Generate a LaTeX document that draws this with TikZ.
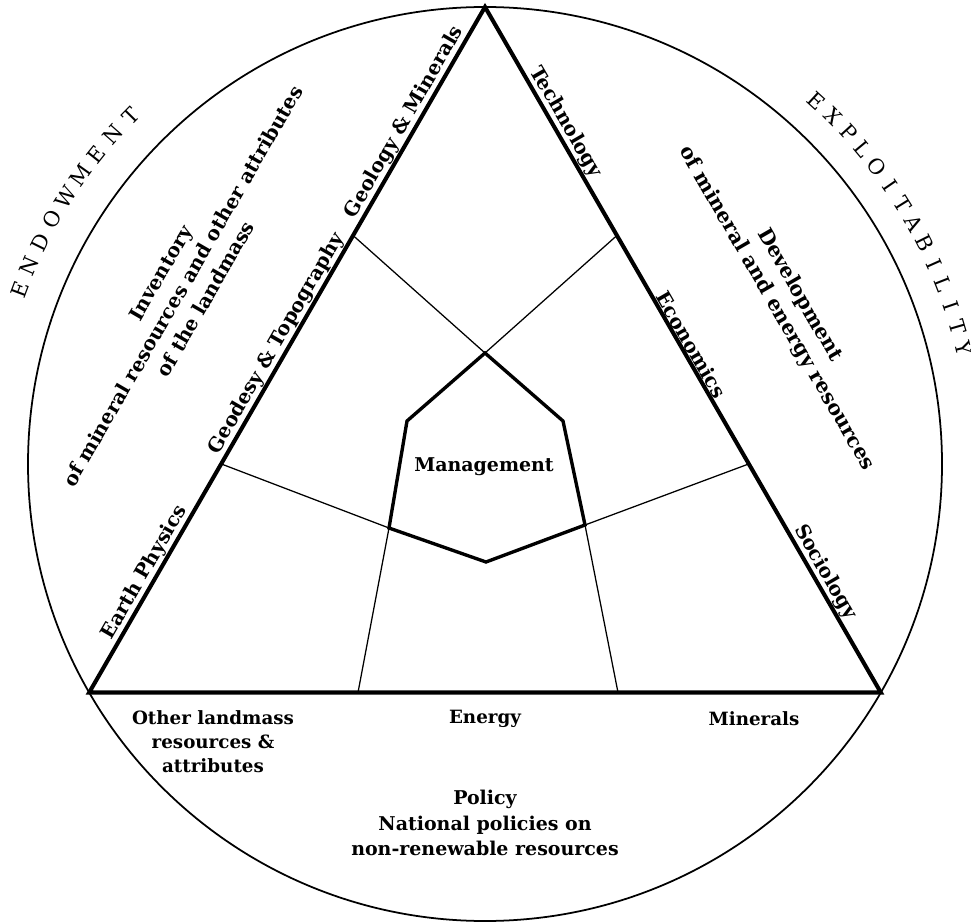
\documentclass[tikz,border=0pt]{standalone}
\usepackage{fontspec}
\setmainfont{DejaVu Serif}
\newfontfamily\lblfont{DejaVu Serif}
\newfontfamily\capsfont{DejaVu Serif}
\begin{document}
\begin{tikzpicture}[x=0.025cm,y=-0.025cm,
  circline/.style={line width=1.25pt},
  triline/.style={line width=2.9pt, line join=miter},
  pentline/.style={line width=2.4pt, line join=miter},
  thinline/.style={line width=0.9pt},
  lbl/.style={font=\lblfont\bfseries\fontsize{13}{17}\selectfont, inner sep=1.5pt},
  pollbl/.style={font=\lblfont\bfseries\fontsize{13.5}{18}\selectfont, inner sep=1.5pt},
  sidelbl/.style={font=\lblfont\bfseries\fontsize{14}{17}\selectfont, inner sep=1.5pt},
  blk/.style={font=\lblfont\bfseries\fontsize{14}{18.5}\selectfont, inner sep=1pt},
  devblk/.style={font=\lblfont\bfseries\fontsize{14.5}{19}\selectfont, inner sep=1pt},
  mgmt/.style={font=\lblfont\bfseries\fontsize{13.5}{17}\selectfont, inner sep=1pt},
  caps/.style={font=\capsfont\fontsize{15}{17}\selectfont, inner sep=0pt}]
\useasboundingbox (0,0) rectangle (971,924);
% circle
\coordinate (O) at (485,464);
\draw[circline] (O) circle[radius=457];
% triangle
\coordinate (A) at (485,7);
\coordinate (B) at (89.2,692.5);
\coordinate (C) at (880.8,692.5);
\draw[triline] (A) -- (B) -- (C) -- cycle;
% division points
\coordinate (L1) at (353.1,235.5);
\coordinate (L2) at (221.4,464);
\coordinate (R1) at (616.9,235.5);
\coordinate (R2) at (748.6,464);
\coordinate (B1) at (358,692.5);
\coordinate (B2) at (618,692.5);
% pentagon
\coordinate (T) at (485,353);
\coordinate (UL) at (407,421);
\coordinate (UR) at (563,421);
\coordinate (LL) at (389,528);
\coordinate (LR) at (585,525);
\coordinate (Bt) at (486,562);
\draw[thinline] (L1) -- (T);
\draw[thinline] (R1) -- (T);
\draw[thinline] (L2) -- (LL);
\draw[thinline] (R2) -- (LR);
\draw[thinline] (B1) -- (LL);
\draw[thinline] (B2) -- (LR);
\draw[pentline] (T) -- (UR) -- (LR) -- (Bt) -- (LL) -- (UL) -- cycle;
% side labels
\node[sidelbl, rotate=60, anchor=south] (geo) at (415,128.3) {Geology \& Minerals};
\node[sidelbl, rotate=60, anchor=south] (gds) at (287.1,349.8) {Geodesy \& Topography};
\node[sidelbl, rotate=60, anchor=south] (eph) at (155.2,578.3) {Earth Physics};
\node[sidelbl, rotate=-60, anchor=south] (tec) at (555,128.3) {Technology};
\node[sidelbl, rotate=-60, anchor=south] (eco) at (682.9,349.8) {Economics};
\node[sidelbl, rotate=-60, anchor=south] (soc) at (814.8,578.3) {Sociology};
% blocks
\node[blk, rotate=60, align=center] (inv) at (183,286) {Inventory\\of mineral resources and other attributes\\of the landmass};
\node[devblk, rotate=-60, align=center] (dev) at (788,302) {Development\\of mineral and energy resources};
\node[mgmt] (man) at (484,467) {Management};
\node[lbl, align=center] (oth) at (213,742) {Other landmass\\resources \&\\attributes};
\node[lbl] (ene) at (485,719) {Energy};
\node[lbl] (min) at (754,719) {Minerals};
\node[pollbl, align=center] (pol) at (485,823) {Policy\\National policies on\\non-renewable resources};
% outer captions
\foreach \ch [count=\i from 0] in {E,N,D,O,W,M,E,N,T} {
  \pgfmathsetmacro\t{159.5-\i*3.0}
  \node[caps, rotate=\t-90] (endow\i) at ({485+497*cos(\t)},{464-497*sin(\t)}) {\ch};
}
\foreach \ch [count=\i from 0] in {E,X,P,L,O,I,T,A,B,I,L,I,T,Y} {
  \pgfmathsetmacro\t{47.6-\i*2.62}
  \node[caps, rotate=\t-90] (expl\i) at ({485+492*cos(\t)},{464-492*sin(\t)}) {\ch};
}
\end{tikzpicture}
\end{document}
